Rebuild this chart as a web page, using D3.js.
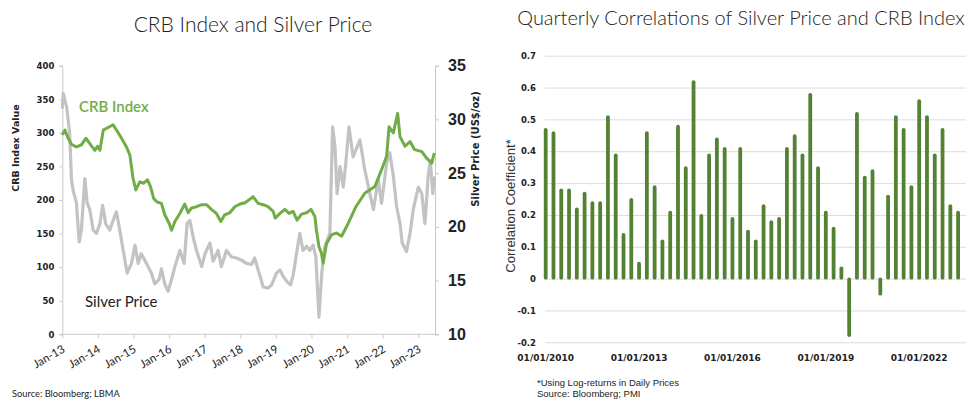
<!DOCTYPE html>
<html>
<head>
<meta charset="utf-8">
<script src="https://cdn.jsdelivr.net/npm/d3@7"></script>
<style>
  body { margin: 0; background: #fff; }
  svg { display: block; }
</style>
</head>
<body>
<div id="chart"></div>
<script>
const crbDates = ['2013-01-01','2013-01-28','2013-03-02','2013-04-05','2013-05-26','2013-07-16','2013-08-31','2013-10-10','2013-12-01','2013-12-28',
  '2014-01-22','2014-02-25','2014-04-16','2014-06-06','2014-07-16','2014-09-01','2014-10-21','2014-11-25','2014-12-28',
  '2015-01-25','2015-03-07','2015-04-16','2015-05-25','2015-06-25','2015-07-28','2015-09-01','2015-10-15','2015-11-18',
  '2016-01-03','2016-01-27','2016-03-01','2016-04-21','2016-06-10','2016-07-15','2016-08-18','2016-10-09','2016-12-01',
  '2017-01-21','2017-03-10','2017-05-01','2017-06-15','2017-07-25','2017-09-15','2017-11-06','2017-12-28',
  '2018-02-18','2018-04-09','2018-05-12','2018-07-03','2018-08-24','2018-10-13','2018-12-04','2018-12-25',
  '2019-02-12','2019-04-03','2019-05-16','2019-06-27','2019-08-06','2019-09-21','2019-11-12','2019-12-28',
  '2020-02-06','2020-02-21','2020-03-19','2020-04-12','2020-04-30','2020-06-03','2020-07-24','2020-09-15','2020-11-05',
  '2021-01-01','2021-04-01','2021-07-01','2021-10-12','2021-12-20',
  '2022-02-10','2022-03-07','2022-04-20','2022-06-03','2022-06-28','2022-08-18','2022-10-08','2022-11-24',
  '2023-02-06','2023-03-29','2023-05-19','2023-06-14'];
const crbValues = [297,304,292,283,279,282,292,284,274,280,
  274,304,308,312,303,292,279,267,232,
  215,227,225,230,220,202,197,195,178,
  165,155,168,180,194,181,188,190,193,
  193,186,180,168,178,181,190,194,
  196,201,205,195,193,190,183,173,
  180,186,180,183,170,179,181,186,
  175,155,130,121,106,135,148,151,146,
  162,190,210,220,245,
  265,309,300,329,294,280,287,275,
  272,262,255,270];

const silverDates = ['2013-01-01','2013-01-11','2013-02-14','2013-03-18','2013-04-05','2013-04-22','2013-05-26','2013-06-23','2013-07-16','2013-08-20','2013-09-13','2013-10-10','2013-11-14','2013-12-18',
  '2014-01-22','2014-02-18','2014-03-22','2014-05-03','2014-06-06','2014-07-10','2014-08-13','2014-09-18','2014-10-28','2014-12-12',
  '2015-01-16','2015-02-19','2015-03-22','2015-04-27','2015-05-31','2015-07-04','2015-08-07','2015-09-21','2015-10-15','2015-11-18','2015-12-22',
  '2016-01-27','2016-03-01','2016-04-21','2016-06-04','2016-07-04','2016-08-01','2016-09-06','2016-10-09','2016-12-01',
  '2017-01-04','2017-02-24','2017-03-28','2017-05-18','2017-06-21','2017-08-12','2017-10-03','2017-11-24',
  '2018-01-13','2018-03-04','2018-04-25','2018-05-28','2018-07-03','2018-08-24','2018-10-13','2018-11-18',
  '2019-01-07','2019-02-12','2019-03-16','2019-04-25','2019-05-31','2019-06-27','2019-08-06','2019-09-03','2019-10-07','2019-11-12','2019-12-15',
  '2020-01-18','2020-02-15','2020-03-18','2020-04-16','2020-05-18','2020-07-08','2020-08-05','2020-08-29','2020-09-20','2020-10-20','2020-11-22','2020-12-20',
  '2021-01-20','2021-03-03','2021-05-12','2021-07-01','2021-08-22','2021-09-27','2021-11-17','2021-12-20',
  '2022-02-10','2022-03-14','2022-04-20','2022-05-23','2022-06-28','2022-07-20','2022-09-02','2022-10-08','2022-11-10',
  '2023-01-01','2023-02-06','2023-03-10','2023-04-12','2023-05-04','2023-05-30','2023-06-14'];
const silverValues = [31.0,32.4,31.2,28.7,24.4,23.4,22.2,18.6,19.7,24.5,22.2,21.6,19.7,19.4,
  20.3,22.0,20.3,19.7,20.6,21.4,19.7,17.8,15.7,16.6,
  18.3,16.6,17.5,16.9,16.3,15.7,14.7,15.1,16.1,14.7,14.0,
  15.1,16.3,17.8,16.6,20.3,20.6,19.0,17.8,16.3,
  17.5,18.5,16.8,17.8,16.3,17.8,17.2,17.1,
  16.9,16.6,16.5,17.1,16.0,14.4,14.3,14.6,
  15.7,16.0,15.4,14.9,14.6,15.5,17.8,19.4,17.8,18.2,17.8,
  18.3,17.2,11.6,15.7,18.2,19.4,29.3,27.5,23.1,25.6,23.7,26.1,
  29.3,26.5,28.1,25.3,23.1,21.6,24.4,22.2,
  25.9,26.9,24.7,21.9,20.3,18.5,17.7,19.4,21.6,
  23.7,23.1,20.3,24.7,26.2,23.1,24.7];

const yearTicks = ['2013','2014','2015','2016','2017','2018','2019','2020','2021','2022','2023'];
const crbTicks = [0, 50, 100, 150, 200, 250, 300, 350, 400];
const silverTicks = [10, 15, 20, 25, 30, 35];

const quarters = ['2010-01-01','2010-04-01','2010-07-01','2010-10-01','2011-01-01','2011-04-01','2011-07-01','2011-10-01',
  '2012-01-01','2012-04-01','2012-07-01','2012-10-01','2013-01-01','2013-04-01','2013-07-01','2013-10-01',
  '2014-01-01','2014-04-01','2014-07-01','2014-10-01','2015-01-01','2015-04-01','2015-07-01','2015-10-01',
  '2016-01-01','2016-04-01','2016-07-01','2016-10-01','2017-01-01','2017-04-01','2017-07-01','2017-10-01',
  '2018-01-01','2018-04-01','2018-07-01','2018-10-01','2019-01-01','2019-04-01','2019-07-01','2019-10-01',
  '2020-01-01','2020-04-01','2020-07-01','2020-10-01','2021-01-01','2021-04-01','2021-07-01','2021-10-01',
  '2022-01-01','2022-04-01','2022-07-01','2022-10-01','2023-01-01','2023-04-01'];
const correlations = [0.47,0.46,0.28,0.28,0.22,0.27,0.24,0.24,0.51,0.39,0.14,0.25,0.05,0.46,0.29,0.12,0.21,0.48,0.35,0.62,
  0.20,0.39,0.44,0.41,0.19,0.41,0.15,0.12,0.23,0.18,0.19,0.41,0.45,0.39,0.58,0.35,0.21,0.16,0.035,-0.18,
  0.52,0.32,0.34,-0.05,0.26,0.51,0.47,0.29,0.56,0.51,0.39,0.47,0.23,0.21];
const corrTicks = [-0.2, -0.1, 0, 0.1, 0.2, 0.3, 0.4, 0.5, 0.6, 0.7];
const corrLabelDates = ['2010-01-01','2013-01-01','2016-01-01','2019-01-01','2022-01-01'];

const parse = d3.timeParse('%Y-%m-%d');
const W = 971, H = 402;
const calibri = 'Lato, "Open Sans", sans-serif';
const svg = d3.select('#chart').append('svg').attr('width', W).attr('height', H);

function drawLeft() {
  const [x0, x1, yTop, yBot] = [62.3, 435, 65.7, 334.3];
  const xScale = d3.scaleTime().domain([new Date(2013, 0, 1), new Date(2023, 0, 1)]).range([x0, 418.3]);
  const yCrb = d3.scaleLinear().domain([0, 400]).range([yBot, yTop]);
  const ySil = d3.scaleLinear().domain([10, 35]).range([yBot, yTop]);

  svg.append('text').attr('x', 253).attr('y', 32).attr('text-anchor', 'middle')
    .style('font', `300 21px ${calibri}`).attr('fill', '#222').text('CRB Index and Silver Price');

  const left = svg.append('g').attr('transform', `translate(${x0},0)`)
    .call(d3.axisLeft(yCrb).tickValues(crbTicks).tickSize(3).tickPadding(5));
  left.select('.domain').attr('stroke', '#c8c8c8');
  left.selectAll('.tick line').attr('stroke', '#c8c8c8');
  left.selectAll('text').style('font', 'bold 8.5px "DejaVu Sans", sans-serif').attr('fill', '#222');

  const right = svg.append('g').attr('transform', `translate(${x1},0)`)
    .call(d3.axisRight(ySil).tickValues(silverTicks).tickSize(4).tickPadding(9));
  right.select('.domain').attr('stroke', '#c8c8c8');
  right.selectAll('.tick line').attr('stroke', '#c8c8c8');
  right.selectAll('text').style('font', 'bold 16px "Liberation Sans", Arial, sans-serif').attr('fill', '#222');

  const bottom = svg.append('g').attr('transform', `translate(0,${yBot})`)
    .call(d3.axisBottom(xScale).tickValues(yearTicks.map(y => new Date(+y, 0, 1)))
      .tickFormat(d3.timeFormat('Jan-%y')).tickSize(4).tickSizeOuter(0));
  bottom.select('.domain').attr('d', `M${x0},0H${x1}`).attr('stroke', '#c8c8c8');
  bottom.selectAll('.tick line').attr('stroke', '#c8c8c8');
  bottom.selectAll('text').style('font', `11.5px ${calibri}`).attr('fill', '#222')
    .attr('text-anchor', 'end').attr('y', 0).attr('dy', 0)
    .attr('transform', 'translate(3,17) rotate(-30)');

  svg.append('text').attr('transform', 'translate(19,148) rotate(-90)').attr('text-anchor', 'middle')
    .style('font', 'bold 9.5px "DejaVu Sans", sans-serif').attr('fill', '#222').text('CRB Index Value');
  svg.append('text').attr('transform', 'translate(479,149) rotate(-90)').attr('text-anchor', 'middle')
    .style('font', 'bold 10px "DejaVu Sans", sans-serif').attr('fill', '#222').text('Silver Price (US$/oz)');

  const silver = silverDates.map((d, i) => [parse(d), silverValues[i]]);
  const crb = crbDates.map((d, i) => [parse(d), crbValues[i]]);
  svg.append('path').datum(silver).attr('fill', 'none').attr('stroke', '#c3c3c3')
    .attr('stroke-width', 3.2).attr('stroke-linejoin', 'round')
    .attr('d', d3.line().x(d => xScale(d[0])).y(d => ySil(d[1])));
  svg.append('path').datum(crb).attr('fill', 'none').attr('stroke', '#70ad47')
    .attr('stroke-width', 3).attr('stroke-linejoin', 'round')
    .attr('d', d3.line().x(d => xScale(d[0])).y(d => yCrb(d[1])));

  svg.append('text').attr('x', 79).attr('y', 112).style('font', `600 15px ${calibri}`)
    .attr('fill', '#70ad47').text('CRB Index');
  svg.append('text').attr('x', 85).attr('y', 307).style('font', `15px ${calibri}`)
    .attr('fill', '#222').text('Silver Price');
  svg.append('text').attr('x', 12).attr('y', 397).style('font', `9.3px ${calibri}`)
    .attr('fill', '#222').text('Source: Bloomberg; LBMA');
}

function drawRight() {
  const [gx0, gx1] = [545, 966];
  const xScale = d3.scalePoint().domain(quarters).range([545.7, 958.1]);
  const yScale = d3.scaleLinear().domain([-0.2, 0.7]).range([342.3, 55.7]);

  svg.append('text').attr('x', 741).attr('y', 25).attr('text-anchor', 'middle')
    .style('font', `300 20px ${calibri}`).attr('fill', '#222')
    .text('Quarterly Correlations of Silver Price and CRB Index');

  const yAxis = svg.append('g').attr('transform', `translate(${gx0},0)`)
    .call(d3.axisLeft(yScale).tickValues(corrTicks).tickSize(-(gx1 - gx0)).tickPadding(9)
      .tickFormat(d => d3.format('.1~f')(d).replace('\u2212', '-')));
  yAxis.select('.domain').remove();
  yAxis.selectAll('.tick line').attr('stroke', '#dcdcdc');
  yAxis.selectAll('text').style('font', 'bold 8.5px "DejaVu Sans", sans-serif').attr('fill', '#222');

  svg.append('g').selectAll('rect').data(quarters).enter().append('rect')
    .attr('x', d => xScale(d) - 1.9)
    .attr('width', 3.8)
    .attr('y', (d, i) => yScale(Math.max(0, correlations[i])) - 1)
    .attr('height', (d, i) => Math.abs(yScale(correlations[i]) - yScale(0)) + 2)
    .attr('rx', 1.9)
    .attr('fill', '#548235');

  svg.append('g').selectAll('text').data(corrLabelDates).enter().append('text')
    .attr('x', d => xScale(d)).attr('y', 361).attr('text-anchor', 'middle')
    .style('font', 'bold 9px "DejaVu Sans", sans-serif').attr('fill', '#222')
    .text(d => d3.timeFormat('%m/%d/%Y')(parse(d)));

  svg.append('text').attr('transform', 'translate(515,206) rotate(-90)').attr('text-anchor', 'middle')
    .style('font', '13px "Liberation Sans", Arial, sans-serif').attr('fill', '#333').text('Correlation Coefficient*');

  svg.append('text').attr('x', 537).attr('y', 386).style('font', '9.5px "Liberation Sans", Arial, sans-serif')
    .attr('fill', '#222').text('*Using Log-returns in Daily Prices');
  svg.append('text').attr('x', 537).attr('y', 397).style('font', '9.5px "Liberation Sans", Arial, sans-serif')
    .attr('fill', '#222').text('Source: Bloomberg; PMI');
}

drawLeft();
drawRight();
</script>
</body>
</html>
